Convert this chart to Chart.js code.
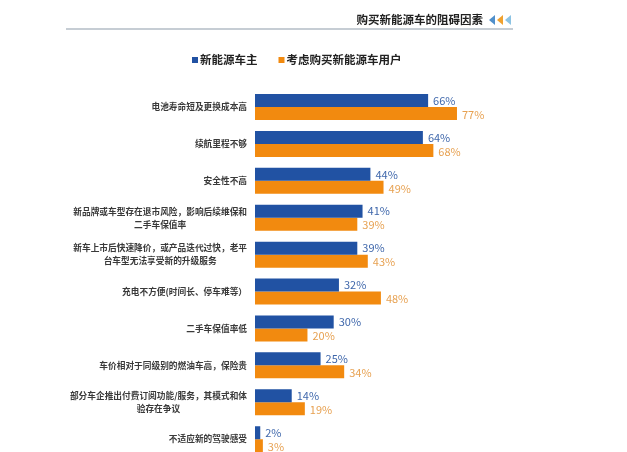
<!DOCTYPE html>
<html>
<head>
<meta charset="utf-8">
<script src="https://cdn.jsdelivr.net/npm/chart.js@4/dist/chart.umd.min.js"></script>
<style>
  html, body { margin: 0; padding: 0; background: #fff; overflow: hidden; }
  #wrap { width: 627px; height: 460px; }
</style>
</head>
<body>
<div id="wrap"><canvas id="chart" width="627" height="460"></canvas></div>
<script>
// chart data
const chartTitle = '购买新能源车的阻碍因素';
const seriesNames = ['新能源车主', '考虑购买新能源车用户'];
const categories = [
  '电池寿命短及更换成本高',
  '续航里程不够',
  '安全性不高',
  ['新品牌或车型存在退市风险，影响后续维保和', '二手车保值率'],
  ['新车上市后快速降价，或产品迭代过快，老平', '台车型无法享受新的升级服务'],
  '充电不方便(时间长、停车难等）',
  '二手车保值率低',
  '车价相对于同级别的燃油车高，保险贵',
  ['部分车企推出付费订阅功能/服务，其模式和体', '验存在争议'],
  '不适应新的驾驶感受'
];
const ownerValues = [66, 64, 44, 41, 39, 32, 30, 25, 14, 2];
const considerValues = [77, 68, 49, 39, 43, 48, 20, 34, 19, 3];

const barColors = ['#2152a3', '#f28a0f'];
const valueColors = ['#3f67ab', '#e7a151'];
const arrowColors = ['#4f8fcb', '#f0a12e', '#8cc3e3'];
const FONT = '"Noto Sans CJK SC", "Noto Sans", sans-serif';

// title, arrows, rule line and legend
const headerPlugin = {
  id: 'header',
  afterDraw(chart) {
    const ctx = chart.ctx;
    ctx.save();
    ctx.font = 'bold 11.5px ' + FONT;
    ctx.fillStyle = '#222';
    ctx.textAlign = 'right';
    ctx.textBaseline = 'middle';
    ctx.fillText(chartTitle, 483, 20);

    arrowColors.forEach((c, i) => {
      const x = 489 + i * 8;
      ctx.beginPath();
      ctx.moveTo(x, 20);
      ctx.lineTo(x + 6, 15);
      ctx.lineTo(x + 6, 25);
      ctx.closePath();
      ctx.fillStyle = c;
      ctx.fill();
    });

    ctx.strokeStyle = '#b3bcc6';
    ctx.lineWidth = 1.5;
    ctx.beginPath();
    ctx.moveTo(66, 29);
    ctx.lineTo(513, 29);
    ctx.stroke();

    // legend
    ctx.font = 'bold 11.5px ' + FONT;
    ctx.textAlign = 'left';
    let x = 192;
    seriesNames.forEach((name, i) => {
      ctx.fillStyle = barColors[i];
      ctx.fillRect(x, 57, 6, 6);
      ctx.fillStyle = '#222';
      ctx.fillText(name, x + 8, 60);
      x += 8 + ctx.measureText(name).width + 21;
    });
    ctx.restore();
  }
};

// category labels at the left, value labels after bars
const labelPlugin = {
  id: 'labels',
  afterDatasetsDraw(chart) {
    const ctx = chart.ctx;
    const yScale = chart.scales.y;
    ctx.save();
    ctx.textBaseline = 'middle';

    ctx.font = 'bold 8.7px ' + FONT;
    ctx.fillStyle = '#3a3a3a';
    ctx.textAlign = 'left';
    const right = chart.chartArea.left - 8;
    categories.forEach((label, i) => {
      const lines = Array.isArray(label) ? label : [label];
      const widths = lines.map(l => ctx.measureText(l).width);
      const widest = Math.max(...widths);
      const cy = yScale.getPixelForValue(i);
      lines.forEach((line, k) => {
        // lines centred inside a right-aligned block
        const lx = right - widest / 2 - widths[k] / 2;
        ctx.fillText(line, lx, cy - (lines.length - 1) * 6.5 + k * 13);
      });
    });

    ctx.font = '11px ' + FONT;
    ctx.textAlign = 'left';
    chart.data.datasets.forEach((ds, d) => {
      const meta = chart.getDatasetMeta(d);
      ctx.fillStyle = valueColors[d];
      meta.data.forEach((bar, i) => {
        ctx.fillText(ds.data[i] + '%', bar.x + 5, bar.y + (d === 1 ? 1 : 0));
      });
    });
    ctx.restore();
  }
};

new Chart(document.getElementById('chart'), {
  type: 'bar',
  data: {
    labels: categories,
    datasets: [
      { label: seriesNames[0], data: ownerValues, backgroundColor: barColors[0] },
      { label: seriesNames[1], data: considerValues, backgroundColor: barColors[1] }
    ]
  },
  options: {
    indexAxis: 'y',
    responsive: false,
    animation: false,
    layout: { padding: { left: 255, right: 31, top: 88.6, bottom: 2.4 } },
    datasets: { bar: { categoryPercentage: 0.705, barPercentage: 1 } },
    scales: {
      x: { display: false, min: 0, max: 130 },
      y: { display: false }
    },
    plugins: {
      legend: { display: false },
      tooltip: { enabled: false }
    }
  },
  plugins: [headerPlugin, labelPlugin]
});
</script>
</body>
</html>
